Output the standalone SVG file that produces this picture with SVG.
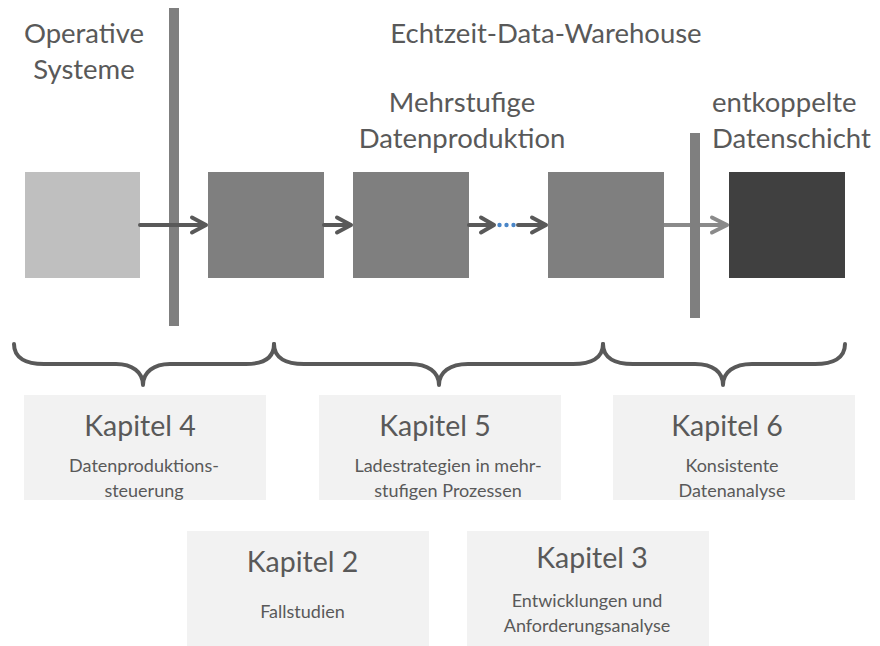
<svg xmlns="http://www.w3.org/2000/svg" width="880" height="646" viewBox="0 0 880 646">
  <style>
    text { font-family: Lato, "Liberation Sans", sans-serif; fill: #595959; }
    .head { font-size: 27.5px; }
    .title { font-size: 28.5px; text-anchor: middle; }
    .sub { font-size: 18px; text-anchor: middle; }
    .mid { text-anchor: middle; }
    .bar { fill: #7f7f7f; }
    .stage { fill: #7f7f7f; }
    .chapter { fill: #f2f2f2; }
    .flow { fill: none; stroke: #595959; stroke-width: 4; stroke-linecap: round; stroke-linejoin: round; }
    .flow-light { fill: none; stroke: #8a8a8a; stroke-width: 4; stroke-linecap: round; stroke-linejoin: round; }
    .brace { fill: none; stroke: #595959; stroke-width: 4; stroke-linecap: round; stroke-linejoin: round; }
  </style>

  <!-- headings -->
  <g id="headings">
    <text class="head mid" x="84" y="43">Operative</text>
    <text class="head mid" x="84" y="79">Systeme</text>
    <text class="head mid" x="546" y="43">Echtzeit-Data-Warehouse</text>
    <text class="head mid" x="462" y="112">Mehrstufige</text>
    <text class="head mid" x="462" y="148">Datenproduktion</text>
    <text class="head" x="712" y="112">entkoppelte</text>
    <text class="head" x="712" y="148">Datenschicht</text>
  </g>

  <!-- lighter connector runs beneath the second separator -->
  <g id="connector-light">
    <path class="flow-light" d="M664,225 H727 M712,217.5 L727,225 L712,232.5"/>
  </g>

  <!-- separators -->
  <g id="separator-1"><rect class="bar" x="169" y="8" width="10" height="318"/></g>
  <g id="separator-2"><rect class="bar" x="690" y="133" width="10" height="185"/></g>

  <!-- stages -->
  <g id="source"><rect x="25" y="172" width="115" height="106" fill="#bfbfbf"/></g>
  <g id="stage-1"><rect class="stage" x="208" y="172" width="116" height="106"/></g>
  <g id="stage-2"><rect class="stage" x="353" y="172" width="116" height="106"/></g>
  <g id="stage-n"><rect class="stage" x="548" y="172" width="116" height="106"/></g>
  <g id="decoupled-layer"><rect x="729" y="172" width="116" height="106" fill="#404040"/></g>

  <!-- connectors -->
  <g id="connectors">
    <path class="flow" d="M140,225 H206 M192,217.5 L206,225 L192,232.5"/>
    <path class="flow" d="M324,225 H351 M337,217.5 L351,225 L337,232.5"/>
    <path class="flow" d="M469,225 H494 M481,217.5 L494,225 L481,232.5"/>
    <g fill="#4a86c8">
      <circle cx="499.5" cy="225" r="2.2"/>
      <circle cx="506.5" cy="225" r="2.2"/>
      <circle cx="513.5" cy="225" r="2.2"/>
    </g>
    <path class="flow" d="M518,225 H546 M532,217.5 L546,225 L532,232.5"/>
  </g>

  <!-- braces -->
  <g id="braces">
    <path class="brace" d="M14,344 C14,358 26,364 44,364 L116,364 C132,364 143,372 143,385 C143,372 154,364 170,364 L246,364 C264,364 274,358 274,344"/>
    <path class="brace" d="M274,344 C274,358 286,364 304,364 L410,364 C428,364 439,372 439,385 C439,372 450,364 468,364 L573,364 C591,364 603,358 603,344"/>
    <path class="brace" d="M603,344 C603,358 615,364 633,364 L695,364 C713,364 723,372 723,385 C723,372 734,364 752,364 L815,364 C833,364 845,358 845,344"/>
  </g>

  <!-- chapters -->
  <g id="chapter-4">
    <rect class="chapter" x="24" y="395" width="242" height="105"/>
    <text class="title" x="140" y="436">Kapitel 4</text>
    <text class="sub" x="144" y="472">Datenproduktions-</text>
    <text class="sub" x="144" y="496.5">steuerung</text>
  </g>
  <g id="chapter-5">
    <rect class="chapter" x="319" y="395" width="242" height="105"/>
    <text class="title" x="435" y="436">Kapitel 5</text>
    <text class="sub" x="448" y="472">Ladestrategien in mehr-</text>
    <text class="sub" x="448" y="496.5">stufigen Prozessen</text>
  </g>
  <g id="chapter-6">
    <rect class="chapter" x="613" y="395" width="242" height="105"/>
    <text class="title" x="727" y="436">Kapitel 6</text>
    <text class="sub" x="732" y="472">Konsistente</text>
    <text class="sub" x="732" y="496.5">Datenanalyse</text>
  </g>
  <g id="chapter-2">
    <rect class="chapter" x="187" y="531" width="242" height="115"/>
    <text class="title" x="302.5" y="571.5">Kapitel 2</text>
    <text class="sub" x="302.5" y="618">Fallstudien</text>
  </g>
  <g id="chapter-3">
    <rect class="chapter" x="467" y="531" width="242" height="115"/>
    <text class="title" x="592" y="568">Kapitel 3</text>
    <text class="sub" x="587" y="607">Entwicklungen und</text>
    <text class="sub" x="587" y="631.5">Anforderungsanalyse</text>
  </g>
</svg>
